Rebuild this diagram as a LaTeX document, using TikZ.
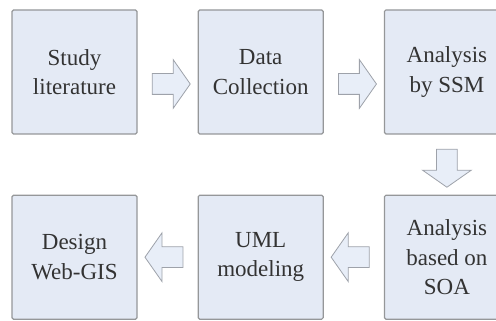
\documentclass[tikz,border=0pt]{standalone}
\usepackage{fontspec}
\setmainfont{Liberation Serif}
\usetikzlibrary{shapes.arrows, positioning, calc}

\definecolor{boxfill}{HTML}{E4EAF5}
\definecolor{boxline}{HTML}{959799}
\definecolor{arrowfill}{HTML}{E8EEF8}
\definecolor{arrowline}{HTML}{9EA2AA}
\definecolor{textgray}{HTML}{333333}

\begin{document}
\begin{tikzpicture}[
    x=1pt, y=1pt,
    node distance=60pt,
    stepbox/.style={rectangle, draw=boxline, line width=1.2pt, rounded corners=1.5pt, fill=boxfill, minimum width=125pt, minimum height=124pt, align=center, text=textgray, font=\fontsize{23}{29.5}\selectfont},
    fatarrow/.style={single arrow, draw=arrowline, line width=0.8pt, fill=arrowfill, inner sep=10pt, single arrow head extend=14pt, single arrow head indent=0pt, single arrow tip angle=110, minimum height=38pt}
]
\useasboundingbox (0,0) rectangle (496,321);
% top row
\node[stepbox] (study) at (74.5,249) {Study\\literature};
\node[stepbox, right=of study] (data) {Data\\Collection};
\node[stepbox, right=of data] (ssm) {Analysis\\by SSM};
% bottom row
\node[stepbox, below=of ssm] (soa) {Analysis\\based on\\SOA};
\node[stepbox, left=of soa] (uml) {UML\\modeling};
\node[stepbox, left=of uml] (webgis) {Design\\Web-GIS};
% arrows
\node[fatarrow, yshift=-12pt] (a1) at ($(study.east)!0.5!(data.west)$) {};
\node[fatarrow, yshift=-12pt] (a2) at ($(data.east)!0.5!(ssm.west)$) {};
\node[fatarrow, shape border rotate=270] (a3) at ($(ssm.south)!0.5!(soa.north)$) {};
\node[fatarrow, shape border rotate=180] (a4) at ($(soa.west)!0.5!(uml.east)$) {};
\node[fatarrow, shape border rotate=180] (a5) at ($(uml.west)!0.5!(webgis.east)$) {};
\end{tikzpicture}
\end{document}
